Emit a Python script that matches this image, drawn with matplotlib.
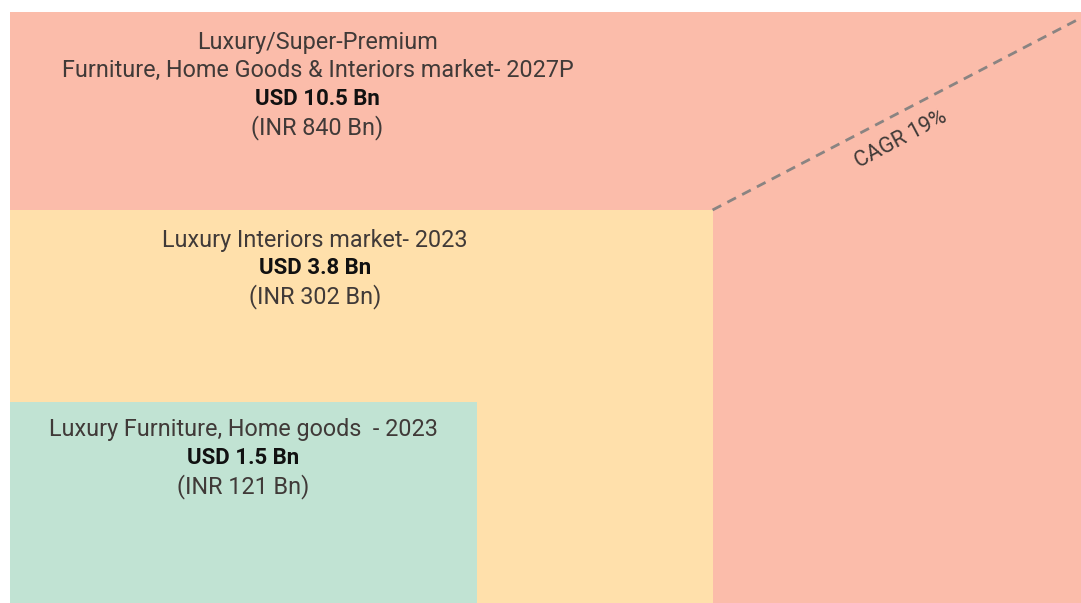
import matplotlib.pyplot as plt
from matplotlib.patches import Rectangle

# market segments, outermost first
titles = ["Luxury/Super-Premium\nFurniture, Home Goods & Interiors market- 2027P",
          "Luxury Interiors market- 2023",
          "Luxury Furniture, Home goods  - 2023"]
usd_bn = [10.5, 3.8, 1.5]
inr_bn = [840, 302, 121]
cagr = 19

# box extents as fraction of the outer box (width, height), anchored bottom-left
box_w = [1.0, 0.656, 0.436]
box_h = [1.0, 0.665, 0.340]
colors = ["#fbbcaa", "#ffe0ab", "#c1e3d3"]
text_x = [0.287, 0.285, 0.218]
text_top = [0.949, 0.614, 0.293]

W, H = 1081, 603
fig = plt.figure(figsize=(W / 100, H / 100), dpi=100)
ax = fig.add_axes([10 / W, 0, (W - 10) / W, (H - 12) / H])
ax.set_xlim(0, 1)
ax.set_ylim(0, 1)
ax.axis("off")

font = "Roboto"
fs = 16.8
step = 0.048  # line step in axes units

for i in range(len(titles)):
    ax.add_patch(Rectangle((0, 0), box_w[i], box_h[i], facecolor=colors[i],
                           edgecolor="none"))
    lines = titles[i].split("\n")
    y = text_top[i]
    for ln in lines:
        ax.text(text_x[i], y, ln, ha="center", va="center", fontsize=fs,
                family=font, color="#403a38")
        y -= step
    ax.text(text_x[i], y, f"USD {usd_bn[i]} Bn", ha="center", va="center",
            fontsize=16, family=font, fontweight="bold", color="#111111")
    y -= step
    ax.text(text_x[i], y, f"(INR {inr_bn[i]} Bn)", ha="center", va="center",
            fontsize=fs, family=font, color="#403a38")

# dashed CAGR line from corner of 2023 interiors box to the outer top-right
x0, y0 = box_w[1], box_h[1]
x1, y1 = 1.0, 0.99
ax.plot([x0, x1], [y0, y1], ls=(0, (3.5, 2.5)), color="#8a8482", lw=2)
ang = 28
ax.text(0.832, 0.784, f"CAGR {cagr}%", rotation=ang, ha="center", va="center",
        fontsize=15.5, family=font, color="#403a38", rotation_mode="anchor")

fig.savefig("out.png", dpi=100)
